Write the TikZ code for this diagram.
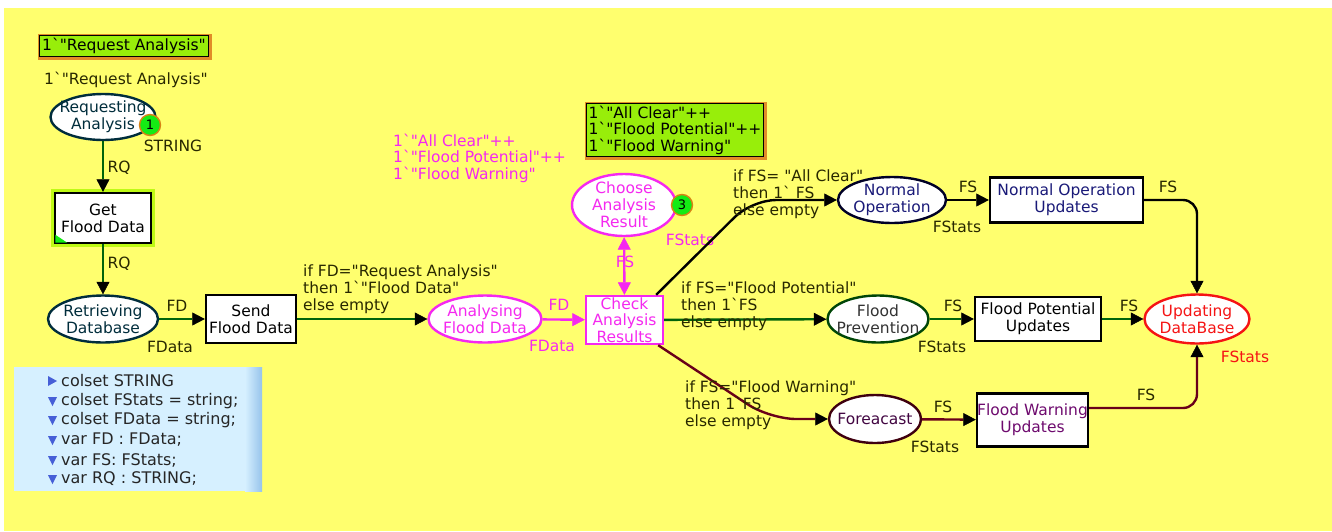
\documentclass[tikz,border=0pt]{standalone}
\usepackage{fontspec}
\setmainfont{DejaVu Sans}[Ligatures=TeXOff]
\usetikzlibrary{shapes.geometric,arrows.meta}

\definecolor{bgyellow}{RGB}{255,255,110}
\definecolor{boxlime}{RGB}{152,238,10}
\definecolor{boxshadow}{RGB}{225,140,40}
\definecolor{glowlime}{RGB}{190,250,20}
\definecolor{tokgreen}{RGB}{20,235,20}
\definecolor{tokrim}{RGB}{215,130,20}
\definecolor{arcgreen}{RGB}{0,100,10}
\definecolor{arcmaroon}{RGB}{105,0,25}
\definecolor{pmagenta}{RGB}{245,40,240}
\definecolor{pred}{RGB}{245,20,20}
\definecolor{inscolor}{RGB}{40,40,0}
\definecolor{tealdark}{RGB}{0,45,60}
\definecolor{navy}{RGB}{25,25,120}
\definecolor{purpletext}{RGB}{110,10,110}
\definecolor{decbg}{RGB}{214,240,255}
\definecolor{decedge}{RGB}{150,195,235}
\definecolor{decmark}{RGB}{70,95,215}

\begin{document}
\begin{tikzpicture}[x=1pt,y=-1pt,
  font=\fontsize{15.5}{17}\selectfont,
  place/.style={ellipse, draw, fill=white, line width=2.4pt, inner sep=0pt},
  ptext/.style={align=center, inner sep=0pt},
  trans/.style={rectangle, draw=black, fill=white, line width=2.4pt,
    inner sep=0pt, align=center},
  insc/.style={text=inscolor, inner sep=0pt, align=left},
  tip/.style={-{Triangle[length=12.5pt,width=13pt,line width=0.5pt,color=black]}},
  arc/.style={line width=2.4pt, tip},
  token/.style={circle, fill=tokgreen, draw=tokrim, line width=1.4pt,
    minimum size=21pt, inner sep=0pt, font=\fontsize{13}{13}\selectfont},
  initbox/.style={draw=black, fill=boxlime, line width=1.2pt, inner sep=2.5pt,
    align=left, text=black,
    preaction={draw=boxshadow, line width=4.5pt, transform canvas={shift={(1pt,-1pt)}}}},
  decl/.style={anchor=west, inner sep=0pt, text=black!85, font=\fontsize{16}{17}\selectfont}
]
\useasboundingbox (0,0) rectangle (1332,531);
\fill[bgyellow] (4,8) rectangle (1332,531);

% ---------- places ----------
\node[place, draw=tealdark, minimum width=105pt, minimum height=46pt,
  label={[ptext,text=tealdark]center:Requesting\\Analysis}] (req) at (103,117) {};
\node[place, draw=tealdark, minimum width=110pt, minimum height=47pt,
  label={[ptext,text=tealdark]center:Retrieving\\Database}] (ret) at (103,319) {};
\node[place, draw=pmagenta, minimum width=113pt, minimum height=47pt,
  label={[ptext,text=pmagenta]center:Analysing\\Flood Data}] (ana) at (485,319) {};
\node[place, draw=pmagenta, minimum width=104pt, minimum height=62pt,
  label={[ptext,text=pmagenta]center:Choose\\Analysis\\Result}] (choose) at (624,205) {};
\node[place, draw=black!85!blue, minimum width=108pt, minimum height=46pt,
  label={[ptext,text=navy]center:Normal\\Operation}] (normal) at (892,200) {};
\node[place, draw=arcgreen!70!black, minimum width=101pt, minimum height=47pt,
  label={[ptext,text=black!80]center:Flood\\Prevention}] (prev) at (878,319) {};
\node[place, draw=arcmaroon!60!black, minimum width=92pt, minimum height=48pt,
  label={[ptext,text=purpletext!60!black]center:Foreacast}] (fore) at (875,419) {};
\node[place, draw=pred, minimum width=105pt, minimum height=49pt,
  label={[ptext,text=pred]center:Updating\\DataBase}] (upd) at (1197,319) {};

% ---------- transitions ----------
\node[trans, minimum width=96pt, minimum height=50pt,
  preaction={draw=glowlime, line width=8pt}] (gfd) at (103,218) {Get\\Flood Data};
\fill[tokgreen] (gfd.south west) ++(1.5,-1.5) -- ++(0,-8) -- ++(12,8) -- cycle;
\node[trans, minimum width=90pt, minimum height=48pt] (sfd) at (251,319) {Send\\Flood Data};
\node[trans, draw=pmagenta, text=pmagenta, minimum width=77pt, minimum height=48pt,
  font=\fontsize{15.5}{16.5}\selectfont] (check) at (624.5,320) {Check\\Analysis\\Results};
\node[trans, text=navy, minimum width=153pt, minimum height=45pt] (nou) at (1066.5,200) {Normal Operation\\Updates};
\node[trans, minimum width=126pt, minimum height=44pt] (fpu) at (1038,319) {Flood Potential\\Updates};
\node[trans, text=purpletext, minimum width=111pt, minimum height=53pt] (fwu) at (1032.5,420) {Flood Warning\\Updates};

% ---------- tokens ----------
\node[token] (tok1) at (150,125) {1};
\node[token] (tok3) at (682,205) {3};

% ---------- initial markings ----------
\node[initbox] (init1) at (124,46) {1`"Request Analysis"};
\node[initbox, font=\fontsize{15.5}{16.5}\selectfont] (init3) at (675,130)
  {1`"All Clear"++\\1`"Flood Potential"++\\1`"Flood Warning"};
\node[insc] (m1) at (126,80) {1`"Request Analysis"};
\node[insc, text=pmagenta, font=\fontsize{15.5}{16.5}\selectfont, anchor=west] (m3) at (393,158)
  {1`"All Clear"++\\1`"Flood Potential"++\\1`"Flood Warning"};

% ---------- colour sets ----------
\node[insc] (cs1) at (173,146) {STRING};
\node[insc] (cs2) at (170,347) {FData};
\node[insc, text=pmagenta] (cs3) at (552,346) {FData};
\node[insc, text=pmagenta] (cs4) at (690,240) {FStats};
\node[insc] (cs5) at (957,227) {FStats};
\node[insc] (cs6) at (942,347) {FStats};
\node[insc] (cs7) at (935,447) {FStats};
\node[insc, text=pred] (cs8) at (1245,357) {FStats};

% ---------- arcs ----------
\draw[arc, arcgreen] (req) -- (gfd);
\draw[arc, arcgreen] (gfd) -- (ret);
\draw[arc, arcgreen] (ret) -- (sfd);
\draw[arc, arcgreen] (sfd) -- (ana);
\draw[line width=2.4pt, pmagenta,
  -{Triangle[length=12.5pt,width=13pt,line width=0.5pt]}] (ana) -- (check);
\draw[line width=2.4pt, pmagenta,
  {Triangle[length=12.5pt,width=13pt,line width=0.5pt]}-{Triangle[length=12.5pt,width=13pt,line width=0.5pt]}]
  (choose) -- (check);
\draw[arc, black, rounded corners=24pt] ([xshift=-8pt]check.north east) -- (752,200) -- (normal.west);
\draw[arc, arcgreen] (check) -- (prev);
\draw[arc, arcmaroon, rounded corners=26pt] ([xshift=-6pt]check.south east) -- (770,419) -- (fore.west);
\draw[arc, black] (normal) -- (nou);
\draw[arc, arcgreen] (prev) -- (fpu);
\draw[arc, arcmaroon] (fore) -- (fwu);
\draw[arc, black, rounded corners=14pt] (nou.east) -| (upd.north);
\draw[arc, arcgreen] (fpu) -- (upd);
\draw[arc, arcmaroon, rounded corners=14pt] ([yshift=12pt]fwu.east) -| (upd.south);

% ---------- arc inscriptions ----------
\node[insc] (a1) at (119,168) {RQ};
\node[insc] (a2) at (119,264) {RQ};
\node[insc] (a3) at (177,306) {FD};
\node[insc, anchor=west] (a4) at (303,289) {if FD="Request Analysis"\\then 1`"Flood Data"\\else empty};
\node[insc, text=pmagenta] (a5) at (559,305) {FD};
\node[insc, text=pmagenta] (a6) at (625,262) {FS};
\node[insc, anchor=west] (a7) at (733,194) {if FS= "All Clear"\\then 1` FS\\else empty};
\node[insc, anchor=west] (a8) at (681,306) {if FS="Flood Potential"\\then 1`FS\\else empty};
\node[insc, anchor=west] (a9) at (685,405) {if FS="Flood Warning"\\then 1`FS\\else empty};
\node[insc] (a10) at (968,187) {FS};
\node[insc] (a11) at (953,306) {FS};
\node[insc] (a12) at (943,407) {FS};
\node[insc] (a13) at (1168,187) {FS};
\node[insc] (a14) at (1129,306) {FS};
\node[insc] (a15) at (1146,395) {FS};

% ---------- declarations ----------
\fill[decbg] (14,367) rectangle (246,491);
\shade[left color=decbg, right color=decedge] (245,367) rectangle (262,491);
\node[decl] (d1) at (61,381) {colset STRING};
\node[decl] (d2) at (61,401) {colset FStats = string;};
\node[decl] (d3) at (61,420) {colset FData = string;};
\node[decl] (d4) at (61,440) {var FD : FData;};
\node[decl] (d5) at (61,460) {var FS: FStats;};
\node[decl] (d6) at (61,479) {var RQ : STRING;};
\fill[decmark] (48,376) -- (57,381) -- (48,386) -- cycle;
\foreach \yy in {401,420,440,460,479}
  \fill[decmark] (48,\yy-4) -- (57,\yy-4) -- (52.5,\yy+5) -- cycle;
\end{tikzpicture}
\end{document}
